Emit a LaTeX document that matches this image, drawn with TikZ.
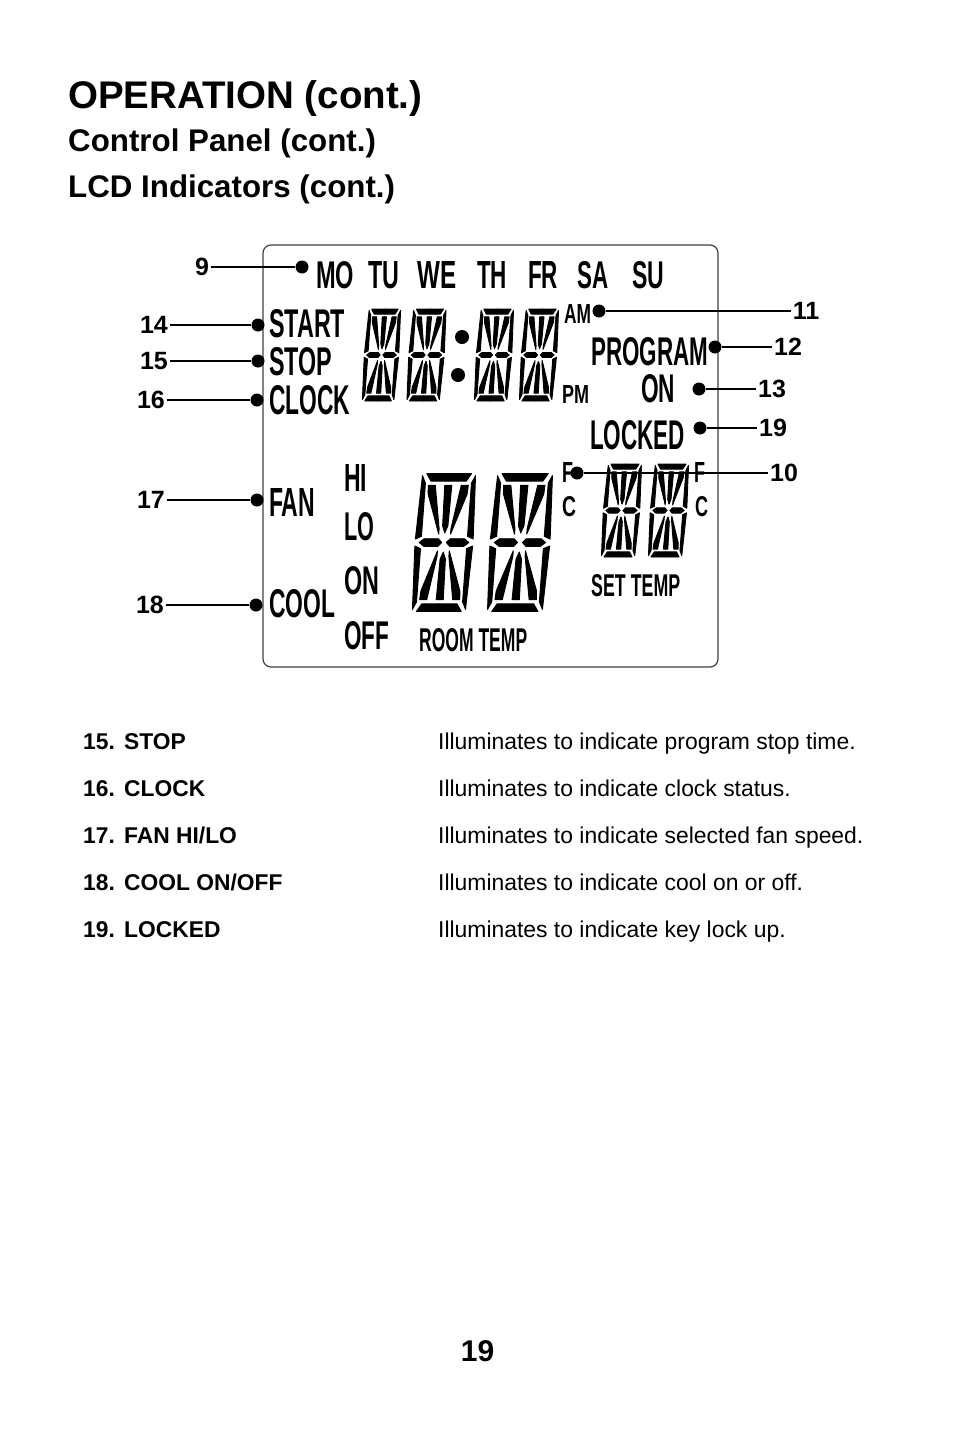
\documentclass[tikz,border=0pt]{standalone}
\usepackage{fontspec}
\setmainfont{Liberation Sans}
\usetikzlibrary{positioning}

% one 14-segment digit: centre x, centre y, width, height
\newcommand{\lcddigit}[4]{%
  \begin{scope}[shift={(#1,#2)}, xslant=0.075, xscale=#3/10, yscale=#4/20]
    \foreach \sx/\sy in {1/1,1/-1,-1/1,-1/-1} {
      \begin{scope}[xscale=\sx, yscale=\sy]
        \filldraw[lcdseg] (0,10) -- (3.8,10) -- (3,8.9) -- (0,8.9) -- cycle;
        \filldraw[lcdseg] (4.5,9.7) -- (3.9,8.6) -- (3.9,.9) -- (4.9,.5) -- cycle;
        \filldraw[lcdseg] (2.2,8.3) -- (3.4,8.3) -- (3.3,7) -- (1,1.2) -- (1,2) -- cycle;
        \filldraw[lcdseg] (0,8.3) -- (.6,8.3) -- (.45,2.4) -- (0,1.4) -- cycle;
        \filldraw[lcdseg] (.4,0) -- (1,.55) -- (3.4,.55) -- (4.2,0) -- cycle;
      \end{scope}
    }
  \end{scope}
}
% stretched lettering on the panel: width, height, text
\newcommand{\lcdtxt}[3]{\resizebox{#1pt}{#2pt}{\bfseries #3}}

\tikzset{
  lcdseg/.style={black, line width=.9pt, line join=round},
  lcdword/.style={anchor=south west, inner sep=0pt},
  lcdframe/.style={draw=black!75, line width=1.2pt, rounded corners=8pt},
  leaddot/.style={circle, fill=black, inner sep=0pt, minimum size=13pt},
  leadnum/.style={font=\fontsize{25}{28}\selectfont\bfseries, inner sep=1.5pt},
  leader/.style={line width=1.9pt},
  headline/.style={anchor=base west, inner sep=0pt, font=\bfseries\fontsize{#1}{#1}\selectfont},
  entry/.style={anchor=base west, inner sep=0pt, font=\fontsize{22.9}{28}\selectfont},
  entryb/.style={anchor=base west, inner sep=0pt, font=\fontsize{22.8}{28}\selectfont\bfseries}
}

\begin{document}
\begin{tikzpicture}[x=1pt, y=-1pt]
  \useasboundingbox (0,0) rectangle (954,1437);

  % headings
  \node[headline=38.5] (title) at (68,108) {OPERATION (cont.)};
  \node[headline=31.3] (panel) at (68,151) {Control Panel (cont.)};
  \node[headline=31.3] (lcd) at (68,197) {LCD Indicators (cont.)};

  % panel outline
  \draw[lcdframe] (263,245) rectangle (718,667);

  % days
  \node[lcdword] (mo) at (316,289) {\lcdtxt{38}{27}{MO}};
  \node[lcdword] (tu) at (368,289) {\lcdtxt{31}{27}{TU}};
  \node[lcdword] (we) at (417,289) {\lcdtxt{39}{27}{WE}};
  \node[lcdword] (th) at (477,289) {\lcdtxt{30}{27}{TH}};
  \node[lcdword] (fr) at (528,289) {\lcdtxt{30}{27}{FR}};
  \node[lcdword] (sa) at (577,289) {\lcdtxt{31}{27}{SA}};
  \node[lcdword] (su) at (632,289) {\lcdtxt{32}{27}{SU}};

  % left column
  \node[lcdword] (start) at (269,338) {\lcdtxt{76}{28}{START}};
  \node[lcdword] (stop) at (269,376) {\lcdtxt{63}{28}{STOP}};
  \node[lcdword] (clock) at (269,415) {\lcdtxt{81}{29}{CLOCK}};
  \node[lcdword] (fan) at (269,517) {\lcdtxt{46}{28}{FAN}};
  \node[lcdword] (cool) at (269,618) {\lcdtxt{66}{28}{COOL}};
  \node[lcdword] (hi) at (344,492) {\lcdtxt{23}{27}{HI}};
  \node[lcdword] (lo) at (344,541) {\lcdtxt{30}{28}{LO}};
  \node[lcdword] (fon) at (344,595) {\lcdtxt{35}{28}{ON}};
  \node[lcdword] (off) at (344,650) {\lcdtxt{45}{28}{OFF}};

  % right column
  \node[lcdword] (program) at (591,366) {\lcdtxt{117}{28}{PROGRAM}};
  \node[lcdword] (pon) at (641,403) {\lcdtxt{34}{28}{ON}};
  \node[lcdword] (locked) at (590,450) {\lcdtxt{95}{29}{LOCKED}};
  \node[lcdword] (am) at (564,324) {\lcdtxt{27}{19}{AM}};
  \node[lcdword] (pm) at (562,404) {\lcdtxt{27}{18}{PM}};
  \node[lcdword] (fa) at (562,483) {\lcdtxt{11}{20}{F}};
  \node[lcdword] (ca) at (562,517) {\lcdtxt{14}{20}{C}};
  \node[lcdword] (fb) at (694,483) {\lcdtxt{11}{20}{F}};
  \node[lcdword] (cb) at (695,517) {\lcdtxt{13}{20}{C}};
  \node[lcdword] (settemp) at (591,597) {\lcdtxt{89}{22}{SET TEMP}};
  \node[lcdword] (roomtemp) at (419,652) {\lcdtxt{108}{23}{ROOM TEMP}};

  % digits
  \lcddigit{381.5}{355}{35}{92}
  \lcddigit{426.5}{355}{36}{92}
  \lcddigit{494}{355}{36}{92}
  \lcddigit{539}{355}{36}{92}
  \lcddigit{444}{542.5}{59}{138}
  \lcddigit{520}{542.5}{61}{138}
  \lcddigit{621.5}{510.5}{37}{93}
  \lcddigit{668.5}{510.5}{37}{93}
  \node[leaddot, minimum size=14pt] (colona) at (462,337) {};
  \node[leaddot, minimum size=14pt] (colonb) at (458,375) {};

  % callouts
  \foreach \idx/\nx/\dx/\yy in {
    9/202/302/267, 14/154/258/325, 15/154/258/361, 16/151/257/400,
    17/151/257/500, 18/150/256/605, 11/806/599/311, 12/788/715/347,
    13/772/699/389, 19/773/700/428, 10/784/577/473} {
    \node[leaddot] (d\idx) at (\dx,\yy) {};
    \node[leadnum] (n\idx) at (\nx,\yy) {\idx};
    \draw[leader] (n\idx) -- (d\idx);
  }

  % list
  \foreach \row/\nr/\nm/\txt in {
    749/15./STOP/Illuminates to indicate program stop time.,
    796/16./CLOCK/Illuminates to indicate clock status.,
    843/17./FAN HI\slash LO/Illuminates to indicate selected fan speed.,
    890/18./COOL ON\slash OFF/Illuminates to indicate cool on or off.,
    937/19./LOCKED/Illuminates to indicate key lock up.} {
    \node[entryb] (nr\row) at (83,\row) {\nr};
    \node[entryb] (nm\row) at (124,\row) {\nm};
    \node[entry] (txt\row) at (438,\row) {\txt};
  }

  % page number
  \node[anchor=base, inner sep=0pt, font=\bfseries\fontsize{30}{30}\selectfont] (page) at (477.5,1361) {19};
\end{tikzpicture}
\end{document}
